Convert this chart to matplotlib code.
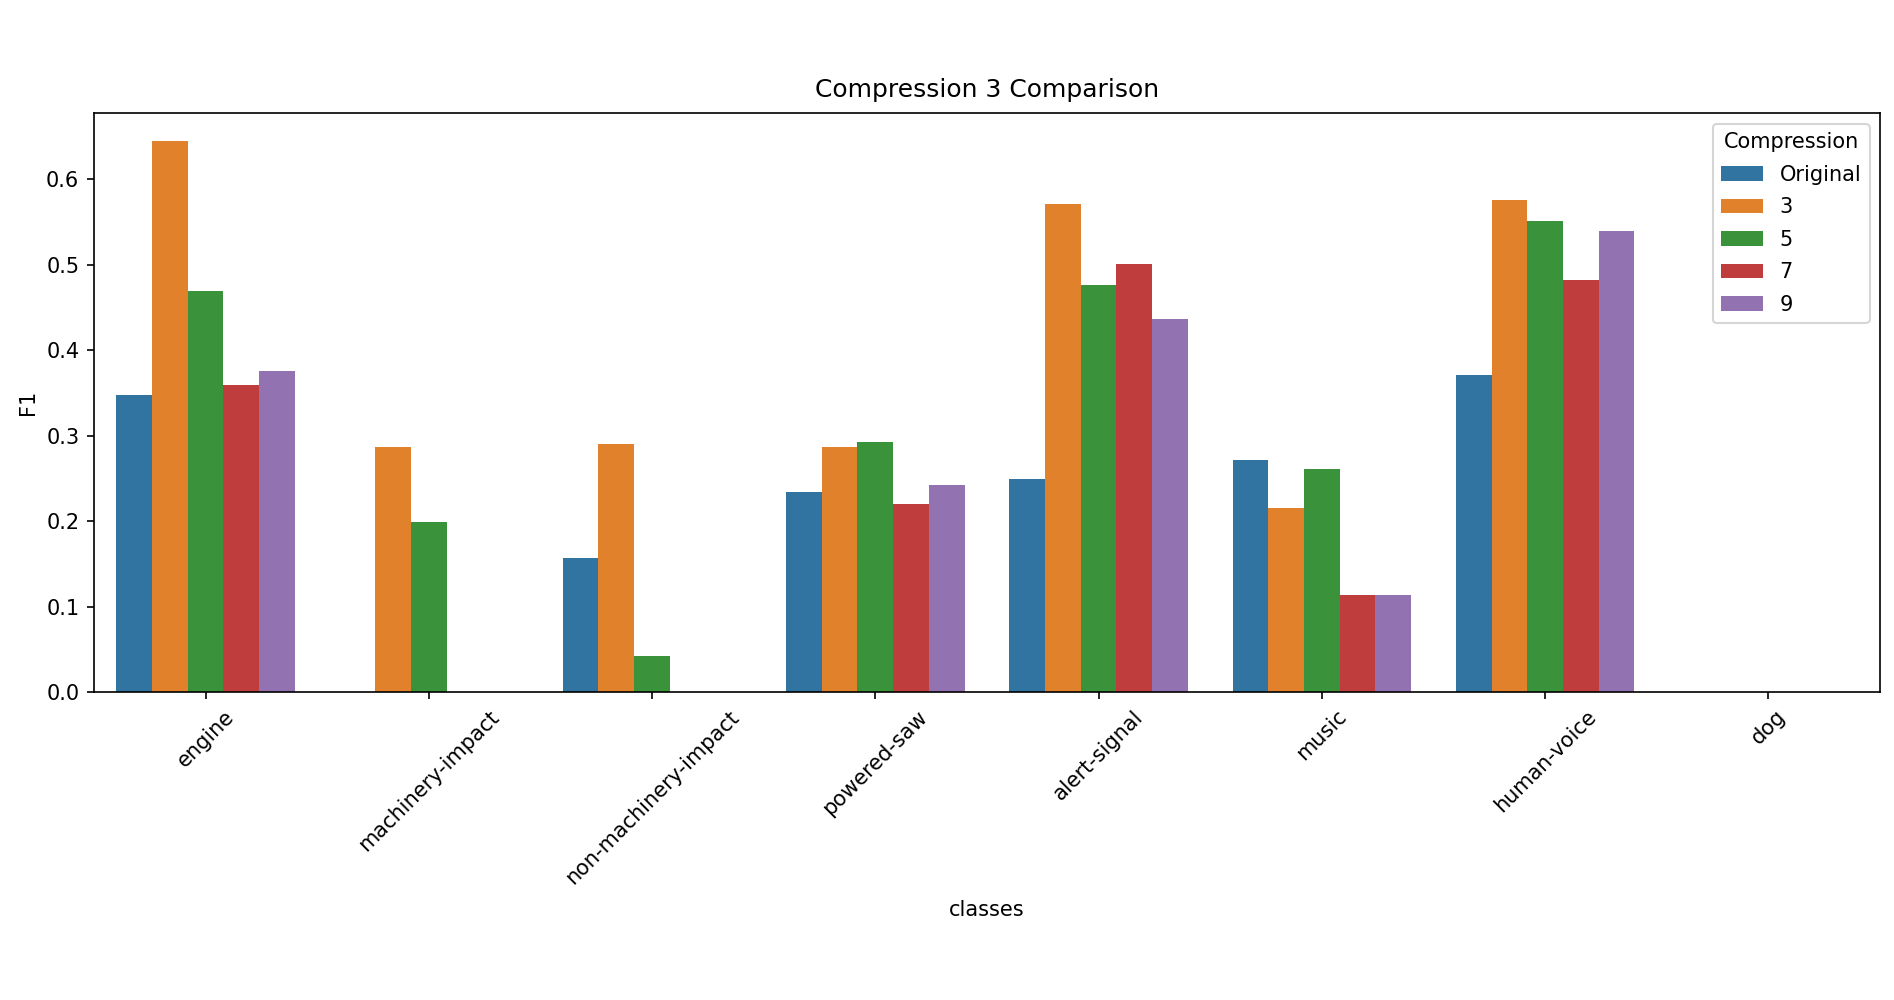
import numpy as np
import pandas as pd
import matplotlib
matplotlib.use("Agg")
import matplotlib.pyplot as plt
import seaborn as sns

# Clases y valores F1 por nivel de compresión
classes = ["engine", "machinery-impact", "non-machinery-impact", "powered-saw",
           "alert-signal", "music", "human-voice", "dog"]
compression = ["Original", "3", "5", "7", "9"]

f1_original = [0.347, 0.0, 0.157, 0.234, 0.249, 0.271, 0.371, 0.0]
f1_c3 = [0.645, 0.287, 0.290, 0.287, 0.571, 0.215, 0.576, 0.0]
f1_c5 = [0.469, 0.199, 0.042, 0.292, 0.476, 0.261, 0.551, 0.0]
f1_c7 = [0.359, 0.0, 0.0, 0.220, 0.501, 0.113, 0.482, 0.0]
f1_c9 = [0.376, 0.0, 0.0, 0.242, 0.436, 0.113, 0.540, 0.0]

series = [f1_original, f1_c3, f1_c5, f1_c7, f1_c9]

# Tabla larga para seaborn
rows = []
for comp, vals in zip(compression, series):
    for c, v in zip(classes, vals):
        rows.append({"classes": c, "F1": v, "Compression": comp})
df = pd.DataFrame(rows)

fig = plt.figure(figsize=(1894 / 150, 1000 / 150), dpi=150)
ax = fig.add_axes([0.0496, 0.308, 0.943, 0.5785])

sns.barplot(data=df, x="classes", y="F1", hue="Compression",
            order=classes, hue_order=compression, ax=ax,
            palette="tab10", saturation=0.75, errorbar=None)

ax.set_title("Compression 3 Comparison", pad=8)
ax.set_xlabel("classes", labelpad=6)
ax.set_ylabel("F1")
ax.set_xlim(-0.5, len(classes) - 0.5)
ax.set_ylim(0, 0.677)
plt.setp(ax.get_xticklabels(), rotation=45)
ax.legend(title="Compression", loc="upper right", labelspacing=0.6)

fig.savefig("out.png", dpi=150)
